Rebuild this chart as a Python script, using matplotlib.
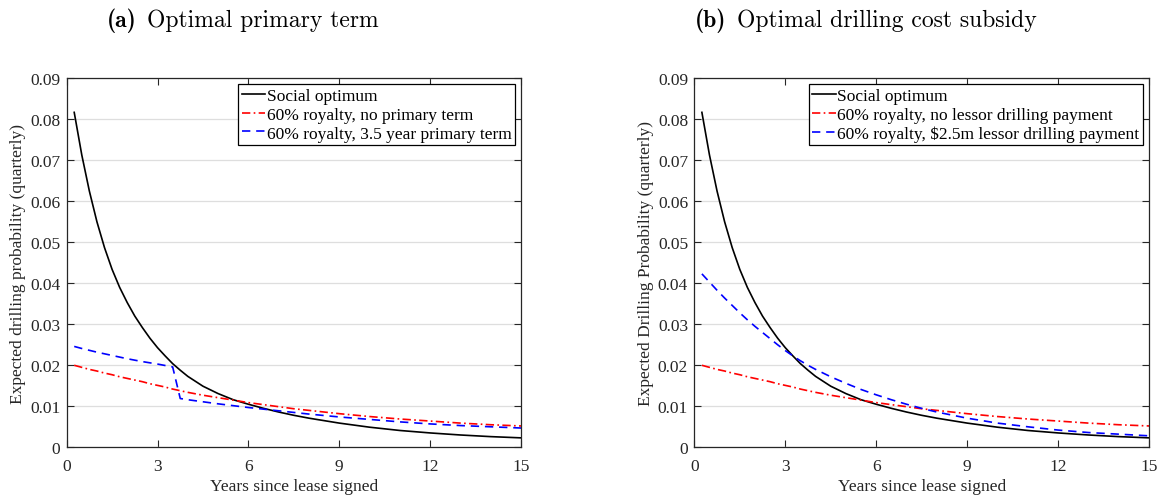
import matplotlib
matplotlib.use("Agg")
import matplotlib.pyplot as plt

# Data (quarterly drilling probability vs years)
years = [0.25, 0.5, 0.75, 1.0, 1.25, 1.5, 1.75, 2.0, 2.25, 2.5, 2.75, 3.0, 3.25,
         3.5, 3.75, 4.0, 4.5, 5.0, 5.5, 6.0, 6.5, 7.0, 7.5, 8.0,
         9.0, 10.0, 11.0, 12.0, 13.0, 14.0, 15.0]
social_opt = [0.0817, 0.0713, 0.0625, 0.0550, 0.0487, 0.0434, 0.0390, 0.0353,
              0.0320, 0.0292, 0.0266, 0.0243, 0.0223, 0.0204, 0.0188, 0.0173,
              0.0149, 0.0131, 0.0116, 0.0105, 0.0095, 0.0086, 0.0078, 0.0071,
              0.0059, 0.0049, 0.0041, 0.0035, 0.0030, 0.0026, 0.0023]
royalty_only = [0.0200, 0.0195, 0.0190, 0.0186, 0.0181, 0.0177, 0.0172, 0.0168,
                0.0164, 0.0160, 0.0155, 0.0151, 0.0147, 0.0142, 0.0138, 0.0134,
                0.0127, 0.0121, 0.0115, 0.0109, 0.0104, 0.0099, 0.0094, 0.0090,
                0.0082, 0.0075, 0.0069, 0.0064, 0.0059, 0.0055, 0.0052]
subsidy = [0.0423, 0.0403, 0.0383, 0.0364, 0.0346, 0.0328, 0.0311, 0.0295,
           0.0280, 0.0265, 0.0250, 0.0236, 0.0223, 0.0211, 0.0200, 0.0190,
           0.0172, 0.0156, 0.0141, 0.0128, 0.0116, 0.0105, 0.0095, 0.0086,
           0.0071, 0.0059, 0.0050, 0.0042, 0.0036, 0.0032, 0.0028]

years_term = [0.25, 0.5, 1.0, 1.5, 2.0, 2.5, 3.0, 3.5, 3.75, 4.0, 5.0, 6.0, 7.0,
              8.0, 9.0, 10.0, 11.0, 12.0, 13.0, 14.0, 15.0]
primary_term = [0.0246, 0.0241, 0.0232, 0.0224, 0.0216, 0.0209, 0.0203, 0.0196,
                0.0119, 0.0116, 0.0106, 0.0097, 0.0089, 0.0081, 0.0074, 0.0068,
                0.0062, 0.0057, 0.0053, 0.0050, 0.0047]

x_ticks = [0, 3, 6, 9, 12, 15]
y_ticks = [0, 0.01, 0.02, 0.03, 0.04, 0.05, 0.06, 0.07, 0.08, 0.09]
y_ticklabels = ["0", "0.01", "0.02", "0.03", "0.04", "0.05", "0.06", "0.07", "0.08", "0.09"]

plt.rcParams["font.family"] = ["Liberation Serif", "DejaVu Serif"]

axis_col = "#262626"
fs = 12.5

fig = plt.figure(figsize=(11.63, 5.02), dpi=100)
ax_a = fig.add_axes([0.0573, 0.107, 0.3907, 0.735])
ax_b = fig.add_axes([0.597, 0.107, 0.391, 0.735])


def style_axes(ax, ylabel):
    ax.set_xlim(0, 15)
    ax.set_ylim(0, 0.09)
    ax.set_xticks(x_ticks)
    ax.set_yticks(y_ticks)
    ax.set_yticklabels(y_ticklabels)
    ax.yaxis.grid(True, color="#dedede", linewidth=0.9)
    ax.set_axisbelow(True)
    ax.tick_params(direction="in", length=5, width=0.8, top=True, right=True,
                   labelsize=fs, colors=axis_col)
    ax.tick_params(axis="x", pad=7.5)
    ax.tick_params(axis="y", pad=4.5)
    for sp in ax.spines.values():
        sp.set_color(axis_col)
        sp.set_linewidth(0.9)
    ax.set_xlabel("Years since lease signed", fontsize=fs, color=axis_col, labelpad=3)
    ax.set_ylabel(ylabel, fontsize=fs, color=axis_col, labelpad=3)


def add_legend(ax):
    leg = ax.legend(loc="upper right", fontsize=fs, frameon=True, fancybox=False,
                    edgecolor="black", framealpha=1, borderaxespad=0.35,
                    borderpad=0.2, handlelength=1.35, handletextpad=0.1,
                    labelspacing=0.15)
    leg.get_frame().set_linewidth(0.9)


# (a) primary term
ax_a.plot(years, social_opt, color="black", lw=1.2, label="Social optimum")
ax_a.plot(years, royalty_only, color="red", lw=1.2, dashes=(5, 2, 1, 2),
          label="60% royalty, no primary term")
ax_a.plot(years_term, primary_term, color="blue", lw=1.2, dashes=(5, 3.5),
          label="60% royalty, 3.5 year primary term")
style_axes(ax_a, "Expected drilling probability (quarterly)")
add_legend(ax_a)

# (b) drilling cost subsidy
ax_b.plot(years, social_opt, color="black", lw=1.2, label="Social optimum")
ax_b.plot(years, royalty_only, color="red", lw=1.2, dashes=(5, 2, 1, 2),
          label="60% royalty, no lessor drilling payment")
ax_b.plot(years, subsidy, color="blue", lw=1.2, dashes=(5, 3.5),
          label="60% royalty, \\$2.5m lessor drilling payment")
style_axes(ax_b, "Expected Drilling Probability (quarterly)")
add_legend(ax_b)

# sub-captions: bold tag + roman text
tsize = 17
fig.text(137 / 1163, 0.947, "(a)", ha="right", va="baseline", fontsize=tsize, family="cmb10")
fig.text(147 / 1163, 0.947, "Optimal primary term", ha="left", va="baseline",
         fontsize=tsize, family="cmr10")
fig.text(726 / 1163, 0.947, "(b)", ha="right", va="baseline", fontsize=tsize, family="cmb10")
fig.text(737 / 1163, 0.947, "Optimal drilling cost subsidy", ha="left", va="baseline",
         fontsize=tsize, family="cmr10")

fig.savefig("out.png", dpi=100)
